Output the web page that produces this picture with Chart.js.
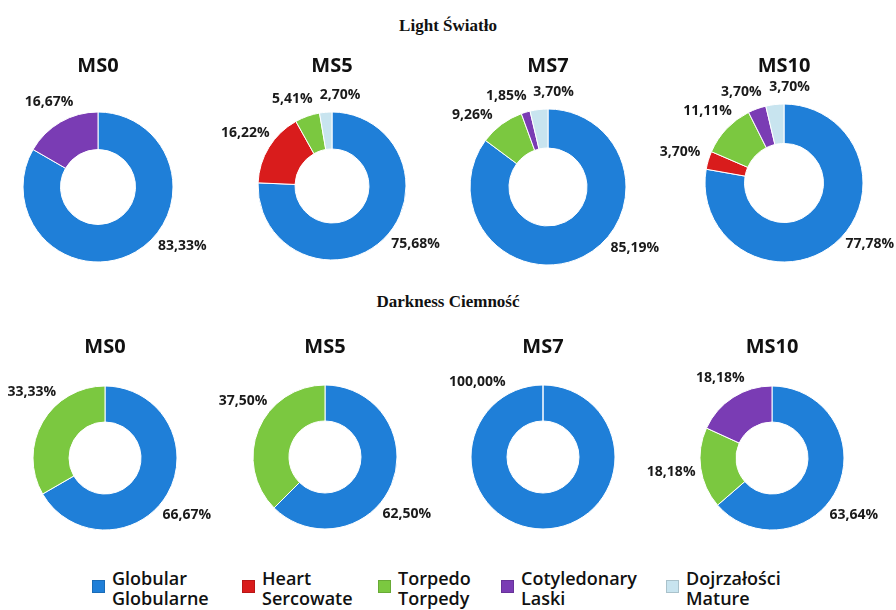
<!DOCTYPE html>
<html>
<head>
<meta charset="utf-8">
<script src="https://cdn.jsdelivr.net/npm/chart.js@4.4.1/dist/chart.umd.min.js"></script>
<style>
  body { margin: 0; background: #fff; }
  #page { position: relative; width: 896px; height: 610px; overflow: hidden; background: #fff; }
  .section { position: absolute; left: 0; width: 896px; text-align: center;
             font: bold 17px "Liberation Serif", serif; color: #111; }
  .box { position: absolute; }
  #legend { position: absolute; left: 0; top: 568px; width: 896px; height: 42px;
            font: 600 18px "Open Sans", sans-serif; color: #111; }
  .item { position: absolute; top: 0; line-height: 20px; }
  .swatch { position: absolute; top: 12px; width: 13px; height: 13px; }
</style>
</head>
<body>
<div id="page">
  <div class="section" style="top:16px">Light Światło</div>
  <div class="section" style="top:292px">Darkness Ciemność</div>
  <div id="legend"></div>
</div>
<script>
// categories (English / Polish)
var categoriesEn = ['Globular', 'Heart', 'Torpedo', 'Cotyledonary', 'Dojrzałości'];
var categoriesPl = ['Globularne', 'Sercowate', 'Torpedy', 'Laski', 'Mature'];
var colors = ['#1f7fd8', '#d91c1c', '#7bc840', '#7a3cb4', '#c8e4ef'];

var stages = ['MS0', 'MS5', 'MS7', 'MS10'];

// percent of embryos per category: Globular, Heart, Torpedo, Cotyledonary, Mature
var lightMS0 = [83.33, 0, 0, 16.67, 0];
var lightMS5 = [75.68, 16.22, 5.41, 0, 2.70];
var lightMS7 = [85.19, 0, 9.26, 1.85, 3.70];
var lightMS10 = [77.78, 3.70, 11.11, 3.70, 3.70];

var darkMS0 = [66.67, 0, 33.33, 0, 0];
var darkMS5 = [62.50, 0, 37.50, 0, 0];
var darkMS7 = [100.00, 0, 0, 0, 0];
var darkMS10 = [63.64, 0, 18.18, 18.18, 0];

var PAGE_W = 896;

function fmt(v) {
  return v.toFixed(2).replace('.', ',') + '%';
}

// labels outside the ring, like the Excel original
var outsideLabels = {
  id: 'outsideLabels',
  afterDatasetsDraw: function(chart) {
    var ctx = chart.ctx;
    var values = chart.data.datasets[0].data;
    var meta = chart.getDatasetMeta(0);
    var offX = chart.canvas.parentNode.offsetLeft;
    var items = [];
    ctx.save();
    ctx.font = 'bold 14px "Open Sans", sans-serif';
    meta.data.forEach(function(arc, i) {
      var v = values[i];
      if (!v) return;
      var p = arc.getProps(['x', 'y', 'startAngle', 'endAngle', 'outerRadius', 'circumference'], true);
      // degrees clockwise from the top
      var deg = ((p.startAngle + p.endAngle) / 2 + Math.PI / 2) * 180 / Math.PI;
      if (deg > 180) deg -= 360;
      var big = false;
      if (p.circumference >= Math.PI * 2 - 0.001) { deg = -41; big = true; }
      else if (v > 50) { deg = 125; big = true; }
      items.push({ text: fmt(v), w: ctx.measureText(fmt(v)).width, deg: deg, big: big,
                   x: p.x, y: p.y, r: p.outerRadius });
    });

    function place(it) {
      var a = it.deg * Math.PI / 180;
      var d = it.big ? it.r + 28 : it.r + 16 + 14 * Math.abs(Math.sin(a));
      it.cx = it.x + Math.sin(a) * d;
      it.cy = it.y - Math.cos(a) * d;
      // keep the text inside the page
      var minX = it.w / 2 + 4 - offX, maxX = PAGE_W - it.w / 2 - 2 - offX;
      if (it.cx < minX) it.cx = minX;
      if (it.cx > maxX) it.cx = maxX;
    }
    function hits(a, b) {
      return Math.abs(a.cx - b.cx) < (a.w + b.w) / 2 + 6 && Math.abs(a.cy - b.cy) < 14 + 5;
    }

    // small labels: start near the top, push each one away from the previous
    var small = items.filter(function(it) { return !it.big; })
      .sort(function(a, b) { return b.deg - a.deg; });
    small.forEach(function(it, k) {
      if (k === 0 && it.deg > -30) it.deg += 10;
      if (k === 0 && it.deg < -55) it.deg += 12;
      place(it);
      if (k > 0) {
        var prev = small[k - 1];
        var guard = 0;
        while (hits(it, prev) && guard < 120) { it.deg -= 1; place(it); guard++; }
      }
    });
    items.forEach(function(it) { if (it.big) place(it); });

    ctx.fillStyle = '#1a1a1a';
    ctx.textAlign = 'center';
    ctx.textBaseline = 'middle';
    items.forEach(function(it) {
      ctx.fillText(it.text, it.cx, it.cy);
    });
    ctx.restore();
  }
};

function makeDonut(title, values, cx, cy, r, titleY) {
  var w = 320;
  var top = titleY - 16;
  var h = 2 * (cy - top - 28) + 28;
  var box = document.createElement('div');
  box.className = 'box';
  box.style.left = (cx - w / 2) + 'px';
  box.style.top = top + 'px';
  box.style.width = w + 'px';
  box.style.height = h + 'px';
  var canvas = document.createElement('canvas');
  box.appendChild(canvas);
  document.getElementById('page').appendChild(box);

  new Chart(canvas, {
    type: 'doughnut',
    data: {
      labels: categoriesEn,
      datasets: [{
        data: values,
        backgroundColor: colors,
        borderColor: '#ffffff',
        borderWidth: 1,
        hoverOffset: 0
      }]
    },
    options: {
      responsive: true,
      maintainAspectRatio: false,
      animation: false,
      radius: r,
      cutout: '50%',
      layout: { padding: 0 },
      plugins: {
        legend: { display: false },
        tooltip: { enabled: false },
        title: {
          display: true,
          text: title,
          color: '#111',
          font: { family: '"Open Sans", sans-serif', size: 20, weight: 'bold', lineHeight: 1.2 },
          padding: { top: 4, bottom: 0 }
        }
      }
    },
    plugins: [outsideLabels]
  });
}

makeDonut(stages[0], lightMS0, 98, 187, 75, 66);
makeDonut(stages[1], lightMS5, 332, 186, 74, 66);
makeDonut(stages[2], lightMS7, 548, 187, 78, 66);
makeDonut(stages[3], lightMS10, 784, 183, 79, 66);

makeDonut(stages[0], darkMS0, 105, 458, 72, 347);
makeDonut(stages[1], darkMS5, 325, 457, 72, 347);
makeDonut(stages[2], darkMS7, 543, 457, 72, 347);
makeDonut(stages[3], darkMS10, 772, 458, 72, 347);

// legend with two-line labels
var legendX = [92, 242, 378, 501, 666];
var legend = document.getElementById('legend');
categoriesEn.forEach(function(name, i) {
  var sw = document.createElement('div');
  sw.className = 'swatch';
  sw.style.left = legendX[i] + 'px';
  sw.style.background = colors[i];
  sw.style.boxShadow = 'inset 0 0 0 1px rgba(0,0,0,0.15)';
  legend.appendChild(sw);
  var it = document.createElement('div');
  it.className = 'item';
  it.style.left = (legendX[i] + 20) + 'px';
  it.innerHTML = name + '<br>' + categoriesPl[i];
  legend.appendChild(it);
});
</script>
</body>
</html>
